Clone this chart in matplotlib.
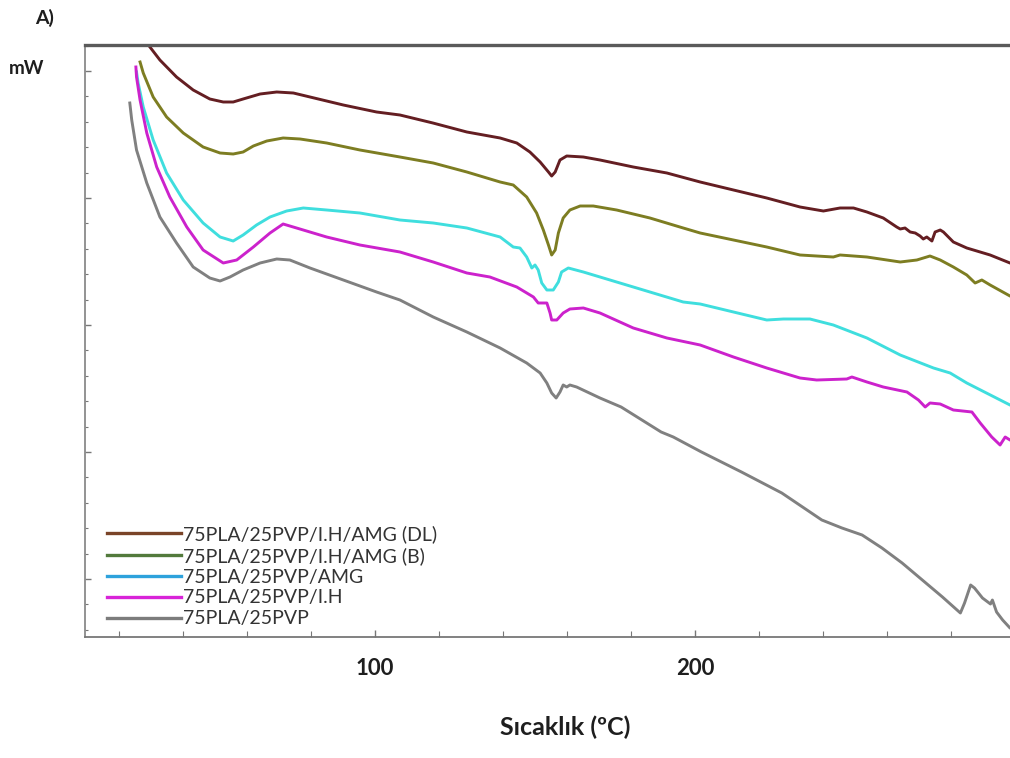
import matplotlib
matplotlib.use("Agg")
import matplotlib.pyplot as plt
from matplotlib.lines import Line2D
import numpy as np

# ---------- data (heat flow in arbitrary mW units) ----------
t_dl = [28.4, 29.2, 32.8, 38.0, 43.2, 48.4, 52.6, 55.7, 58.8, 64.1, 69.3, 74.5, 79.7, 90.1,
        100.5, 107.8, 118.1, 128.7, 139.1, 144.3, 148.4, 151.6, 154.2, 155.2, 156.3, 157.8,
        159.9, 165.1, 170.3, 180.7, 191.2, 201.6, 212.0, 222.4, 232.8, 240.1, 245.3, 249.5,
        253.7, 258.8, 263.0, 264.1, 265.6, 267.2, 268.8, 270.3, 271.3, 272.4, 274.0, 275.0,
        276.6, 277.6, 280.7, 284.9, 292.2, 298.4, 300.5]
hf_dl = [60.2, 59.5, 58.0, 56.3, 55.0, 54.1, 53.8, 53.8, 54.1, 54.6, 54.8, 54.7, 54.3, 53.5,
         52.8, 52.5, 51.7, 50.8, 50.2, 49.7, 48.8, 47.8, 46.8, 46.4, 46.8, 48.0,
         48.4, 48.3, 48.0, 47.3, 46.7, 45.8, 45.0, 44.2, 43.3, 42.9, 43.2, 43.2,
         42.8, 42.2, 41.3, 41.1, 41.2, 40.8, 40.7, 40.4, 40.1, 40.3, 39.9, 40.8,
         41.0, 40.8, 39.8, 39.2, 38.5, 37.7, 37.5]

t_b = [26.6, 27.6, 30.7, 34.9, 40.1, 46.3, 51.6, 55.7, 58.8, 62.0, 66.2, 71.3, 76.6, 84.9,
       95.3, 107.8, 118.2, 128.7, 139.1, 143.2, 147.4, 150.5, 152.6, 154.2, 155.2, 156.3,
       157.3, 158.8, 160.9, 164.1, 168.2, 175.5, 185.9, 196.3, 201.6, 212.0, 222.4, 232.8,
       243.2, 245.3, 253.7, 264.1, 269.3, 273.4, 276.6, 280.7, 284.9, 287.5, 289.6, 292.2,
       298.4, 300.5]
hf_b = [57.8, 56.7, 54.3, 52.3, 50.7, 49.3, 48.7, 48.6, 48.8, 49.4, 49.9, 50.2, 50.1, 49.7,
        49.0, 48.3, 47.7, 46.8, 45.8, 45.5, 44.3, 42.7, 41.0, 39.5, 38.5, 39.0,
        40.7, 42.2, 43.0, 43.4, 43.4, 43.0, 42.2, 41.2, 40.7, 40.0, 39.3, 38.5,
        38.3, 38.5, 38.3, 37.8, 38.0, 38.4, 38.0, 37.3, 36.5, 35.7, 36.0, 35.5,
        34.4, 34.2]

t_amg = [25.5, 26.0, 27.6, 30.7, 34.9, 40.1, 46.3, 51.6, 55.7, 58.8, 63.0, 67.2, 72.4, 77.6,
         84.9, 95.3, 107.8, 118.2, 128.7, 139.1, 143.2, 145.3, 147.4, 149.0, 150.0, 151.0,
         152.1, 153.7, 155.7, 157.3, 158.3, 160.4, 165.1, 175.5, 185.9, 196.3, 201.6, 212.0,
         222.4, 227.6, 235.9, 243.2, 253.7, 264.1, 274.5, 279.7, 284.9, 298.4, 300.5]
hf_amg = [56.8, 55.7, 53.3, 50.0, 46.7, 44.0, 41.7, 40.3, 39.9, 40.5, 41.5, 42.3, 42.9, 43.2,
          43.0, 42.7, 42.0, 41.7, 41.2, 40.3, 39.3, 39.2, 38.3, 37.2, 37.5, 37.0,
          35.7, 35.0, 35.0, 35.8, 36.8, 37.2, 36.8, 35.8, 34.8, 33.8, 33.6, 32.8,
          32.0, 32.1, 32.1, 31.5, 30.2, 28.5, 27.2, 26.7, 25.7, 23.5, 23.2]

t_ih = [25.3, 25.5, 26.6, 28.7, 31.8, 35.9, 41.2, 46.3, 52.6, 56.8, 62.0, 67.2, 71.3, 75.5,
        84.9, 95.3, 107.8, 118.2, 128.7, 135.9, 144.3, 149.5, 151.0, 153.7, 154.7, 155.2,
        156.8, 158.8, 160.9, 165.1, 170.3, 180.7, 191.2, 201.6, 212.0, 222.4, 232.8, 238.0,
        247.4, 249.0, 253.7, 258.8, 266.2, 269.8, 271.9, 273.4, 276.6, 280.7, 286.5, 289.1,
        292.7, 295.3, 296.9, 298.4, 300.5]
hf_ih = [57.3, 56.3, 54.0, 50.7, 47.3, 44.3, 41.3, 39.0, 37.7, 38.0, 39.3, 40.7, 41.6, 41.2,
         40.3, 39.5, 38.8, 37.8, 36.7, 36.3, 35.3, 34.3, 33.7, 33.7, 32.7, 32.0,
         32.0, 32.7, 33.1, 33.2, 32.7, 31.2, 30.2, 29.5, 28.3, 27.2, 26.2, 26.0,
         26.1, 26.3, 25.8, 25.3, 24.8, 24.0, 23.3, 23.7, 23.6, 23.0, 22.8, 21.7,
         20.3, 19.5, 20.3, 20.0, 19.8]

t_pvp = [23.4, 24.0, 25.5, 28.7, 32.8, 38.0, 43.2, 48.4, 51.6, 54.7, 58.8, 64.1, 69.3, 73.4,
         79.7, 90.1, 100.5, 107.8, 118.2, 128.7, 139.1, 147.4, 151.6, 153.7, 155.2, 156.6,
         157.8, 158.8, 159.9, 160.9, 163.0, 170.3, 176.9, 189.4, 193.2, 202.0, 214.5, 227.1,
         239.6, 245.9, 252.2, 258.4, 264.7, 271.0, 277.3, 282.9, 284.2, 286.1, 287.3, 289.8,
         292.3, 292.9, 294.2, 296.1, 298.4, 300.5]
hf_pvp = [53.7, 52.0, 49.0, 45.7, 42.3, 39.7, 37.3, 36.2, 35.9, 36.3, 37.0, 37.7, 38.1, 38.0,
          37.2, 36.0, 34.8, 34.0, 32.3, 30.8, 29.2, 27.7, 26.7, 25.7, 24.7, 24.2,
          24.8, 25.5, 25.3, 25.5, 25.3, 24.2, 23.3, 20.8, 20.3, 18.8, 16.8, 14.7,
          12.0, 11.2, 10.5, 9.2, 7.7, 6.0, 4.3, 2.7, 3.7, 5.5, 5.2, 4.2,
          3.6, 4.0, 2.8, 2.0, 1.2, 1.0]

labels = ["75PLA/25PVP/I.H/AMG (DL)", "75PLA/25PVP/I.H/AMG (B)", "75PLA/25PVP/AMG",
          "75PLA/25PVP/I.H", "75PLA/25PVP"]
curve_colors = ["#641e22", "#7d7d22", "#3fdede", "#cc22cc", "#808080"]
legend_colors = ["#7a4428", "#527a3c", "#2ea2dc", "#d824d8", "#7c7c7c"]

series = [(t_dl, hf_dl), (t_b, hf_b), (t_amg, hf_amg), (t_ih, hf_ih), (t_pvp, hf_pvp)]

# ---------- figure ----------
plt.rcParams['font.family'] = ['Lato', 'DejaVu Sans']

fig = plt.figure(figsize=(10.1, 7.58), dpi=100, facecolor='white')
ax = fig.add_axes([85 / 1010, 1 - 637 / 758, 1 - 85 / 1010, (637 - 45) / 758])

for (t, hf), col in zip(series, curve_colors):
    ax.plot(t, hf, color=col, lw=2.1, solid_joinstyle='round')

ax.set_xlim(9.4, 298.4)
ax.set_ylim(0.3, 59.5)

# ticks: inward, only 100 and 200 labelled
ax.set_xticks([100, 200])
ax.set_xticks(np.arange(20, 300, 20), minor=True)
ax.set_xticklabels(["100", "200"], fontsize=16, fontweight='bold', color='#1e1e1e')
major_y = np.arange(6.1, 59.5, 12.7)
ax.set_yticks(major_y)
ax.set_yticks(np.arange(6.1 - 2.54 * 2, 59.5, 2.54), minor=True)
ax.set_yticklabels([])
ax.tick_params(axis='both', which='both', direction='in', color='#777777')
ax.tick_params(axis='x', which='major', length=5, width=1, pad=15)
ax.tick_params(axis='x', which='minor', length=4, width=0.8)
ax.tick_params(axis='y', which='major', length=4, width=1)
ax.tick_params(axis='y', which='minor', length=2.5, width=0.8)

ax.spines['right'].set_visible(False)
ax.spines['top'].set_color('#5a5a5a')
ax.spines['top'].set_linewidth(2.4)
ax.spines['left'].set_color('#8a8a8a')
ax.spines['left'].set_linewidth(1.3)
ax.spines['bottom'].set_color('#777777')
ax.spines['bottom'].set_linewidth(1.3)

ax.set_xlabel("Sıcaklık (ºC)", fontsize=18, fontweight='bold', color='#1e1e1e')
ax.xaxis.set_label_coords((565 - 85) / 925, (637 - 716) / 592)

fig.text(45 / 1010, 1 - 18 / 758, "A)", fontsize=14, fontweight='bold', color='#1e1e1e',
         ha='center', va='center')
fig.text(9 / 1010, 1 - 68 / 758, "mW", fontsize=13.5, fontweight='bold', color='#1e1e1e',
         ha='left', va='center')

# legend with its own (slightly different) colours
handles = [Line2D([], [], color=c, lw=2.4) for c in legend_colors]
ax.legend(handles, labels, loc='upper left', bbox_to_anchor=(107 / 1010, 1 - 525 / 758),
          bbox_transform=fig.transFigure, frameon=False, fontsize=14,
          handlelength=3.8, handletextpad=0.1, labelspacing=0.2, borderpad=0,
          borderaxespad=0, labelcolor='#333333')

fig.savefig("out.png", dpi=100, facecolor='white')
